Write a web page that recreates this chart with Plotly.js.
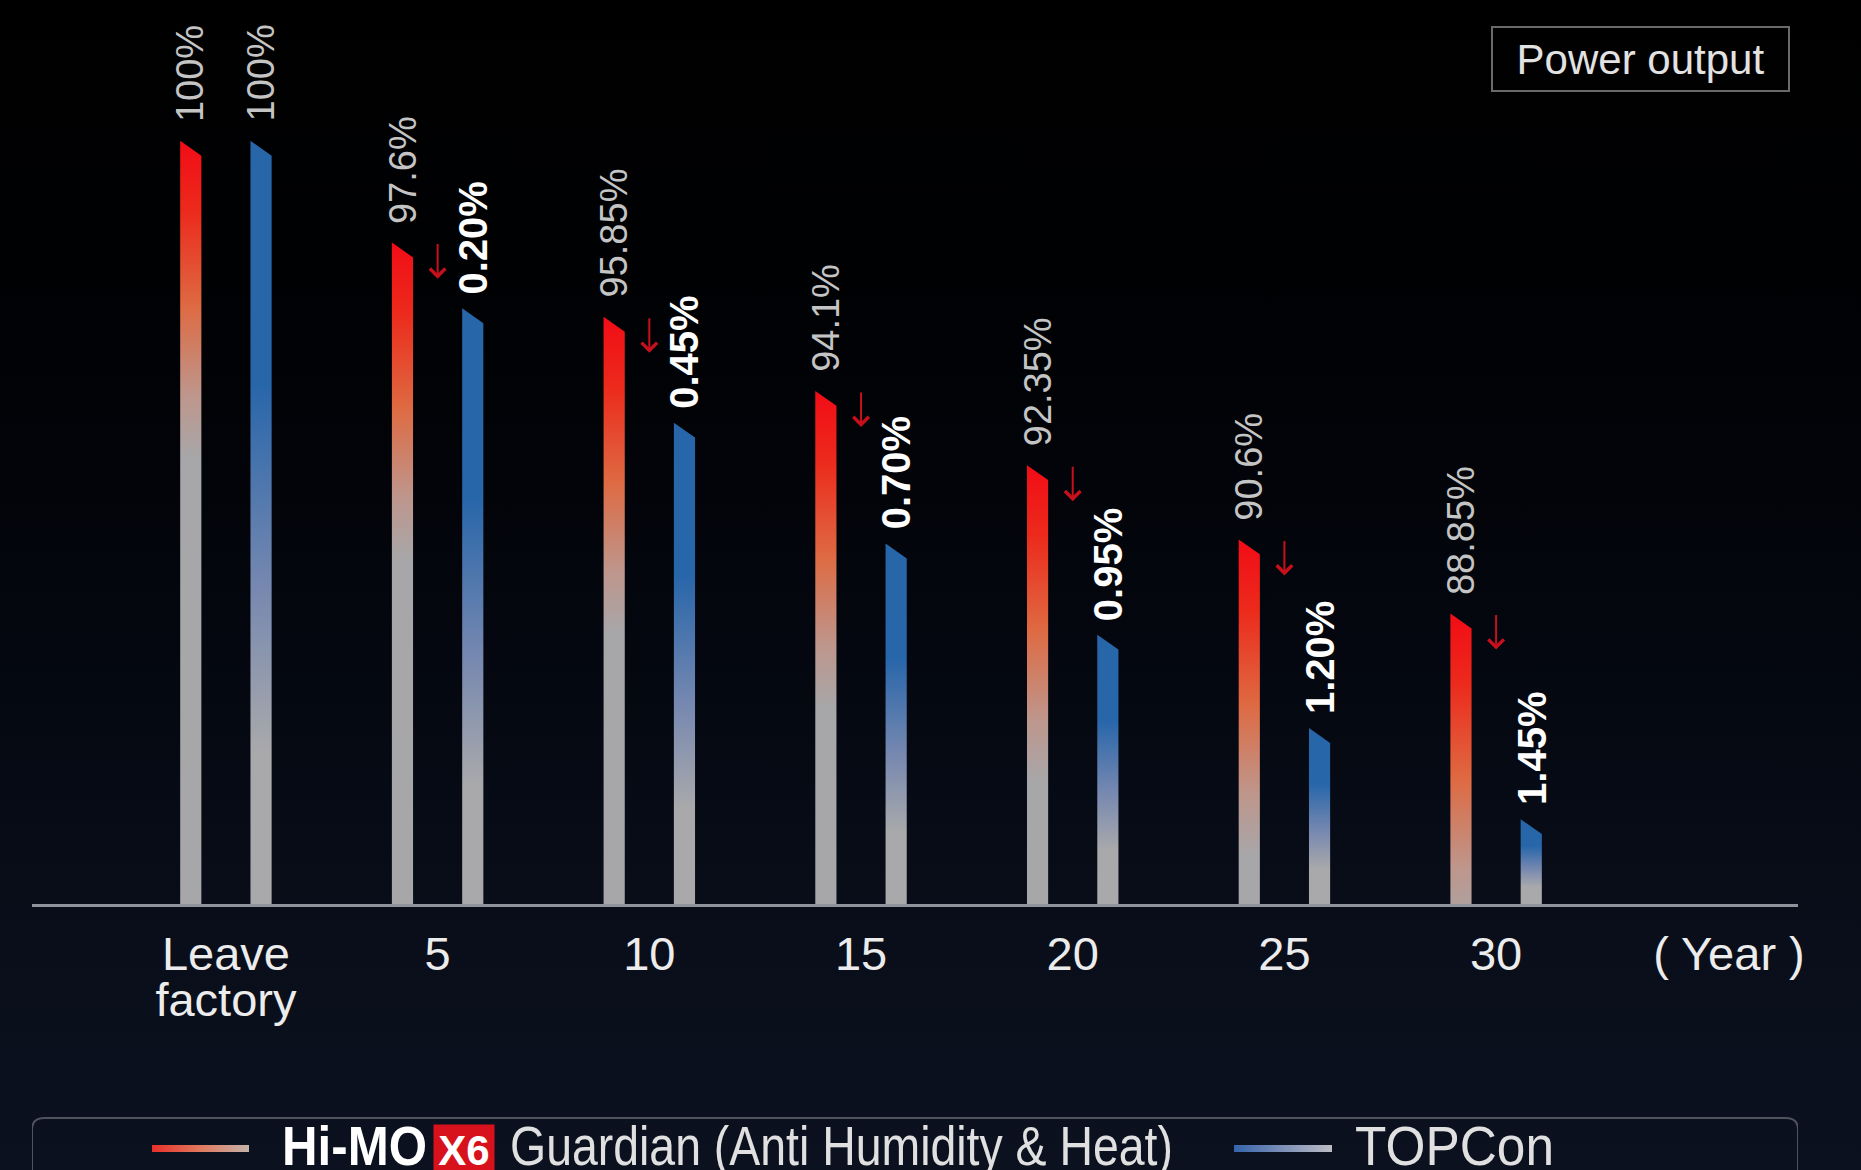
<!DOCTYPE html>
<html>
<head>
<meta charset="utf-8">
<script src="https://cdn.plot.ly/plotly-3.0.1.min.js"></script>
<style>
  html, body {
    margin: 0; padding: 0; width: 1861px; height: 1170px; overflow: hidden;
    background: linear-gradient(to bottom, #000000 0%, #010205 30%, #04070f 55%, #090e1a 80%, #0b111f 100%);
  }
  #chart { width: 1861px; height: 1170px; }
</style>
</head>
<body>
<div id="chart"></div>
<script>
// Power output retention over module lifetime
const periods = ['Leave<br>factory', '5', '10', '15', '20', '25', '30'];
const himoOutput = [100, 97.6, 95.85, 94.1, 92.35, 90.6, 88.85];
const topconOutput = [100, 96.05, 93.35, 90.5, 88.35, 86.15, 84.0];
const extraLoss = [null, 0.20, 0.45, 0.70, 0.95, 1.20, 1.45];
const yearUnit = '( Year )';
const himoName = 'Hi-MO';
const himoBadge = 'X6';
const himoSuffix = 'Guardian (Anti Humidity & Heat)';
const topconName = 'TOPCon';
const panelTitle = 'Power output';

// geometry / style settings
const yFloor = 82;
const yCeil = 102.85;
const pairOffset = 0.166;   // bar centre distance from category centre
const halfWidth = 0.05;     // half bar width (x units)
const slant = 0.35;         // drop of the bevelled bar top (y units)
const FONT = 'Liberation Sans, Arial, sans-serif';

const redScale = [[0, '#a7a7a9'], [0.2, '#be968c'], [0.48, '#de6a42'], [0.78, '#ec2a1c'], [1, '#f20c16']];
const blueScale = [[0, '#a9a9ab'], [0.45, '#7688b0'], [1, '#2866aa']];

function barTrace(xc, v, gradient) {
  return {
    type: 'scatter', mode: 'lines', fill: 'toself',
    x: [xc - halfWidth, xc - halfWidth, xc + halfWidth, xc + halfWidth, xc - halfWidth],
    y: [yFloor, v, v - slant, yFloor, yFloor],
    line: { width: 0, color: 'rgba(0,0,0,0)' },
    fillgradient: gradient,
    hoverinfo: 'skip', showlegend: false, xaxis: 'x', yaxis: 'y'
  };
}

const traces = [];
const annotations = [];
const condensed = [];   // [annotation index, drawn width in px]

himoOutput.forEach((v, i) => {
  const xc = i - pairOffset;
  traces.push(barTrace(xc, v, { type: 'vertical', start: v - 7.5, stop: v, colorscale: redScale }));
  annotations.push({
    x: xc, y: v, xref: 'x', yref: 'y', text: v + '%', textangle: -90,
    xanchor: 'center', yanchor: 'bottom', yshift: 17, showarrow: false,
    font: { family: FONT, size: 38, color: '#c4c4c4' }
  });
});

topconOutput.forEach((v, i) => {
  const xc = i + pairOffset;
  const len = v - yFloor;
  traces.push(barTrace(xc, v, { type: 'vertical', start: yFloor + len * 0.2, stop: v - len * 0.32, colorscale: blueScale }));
  const loss = extraLoss[i];
  annotations.push({
    x: xc, y: v, xref: 'x', yref: 'y',
    text: loss === null ? v + '%' : '<b>' + loss.toFixed(2) + '%</b>',
    textangle: -90, xanchor: 'center', yanchor: 'bottom', yshift: loss === null ? 17 : 12, showarrow: false,
    font: loss === null ? { family: FONT, size: 38, color: '#c4c4c4' } : { family: FONT, size: 40, color: '#ffffff' }
  });
  if (loss !== null) {
    annotations.push({
      x: i, y: himoOutput[i] - 0.85, ax: i, ay: himoOutput[i], xref: 'x', yref: 'y', axref: 'x', ayref: 'y',
      text: '', showarrow: true, arrowhead: 4, arrowsize: 1.5, arrowwidth: 2, arrowcolor: '#c8101c'
    });
  }
});

// legend swatches (drawn on the auxiliary pixel-like axes)
traces.push({
  type: 'scatter', mode: 'lines', fill: 'toself', xaxis: 'x2', yaxis: 'y2',
  x: [152, 152, 249, 249, 152], y: [1152, 1145, 1145, 1152, 1152],
  line: { width: 0, color: 'rgba(0,0,0,0)' }, hoverinfo: 'skip', showlegend: false,
  fillgradient: { type: 'horizontal', start: 152, stop: 249, colorscale: [[0, '#e8302a'], [0.5, '#e07a5e'], [1, '#c4b2aa']] }
});
traces.push({
  type: 'scatter', mode: 'lines', fill: 'toself', xaxis: 'x2', yaxis: 'y2',
  x: [1234, 1234, 1332, 1332, 1234], y: [1152, 1145, 1145, 1152, 1152],
  line: { width: 0, color: 'rgba(0,0,0,0)' }, hoverinfo: 'skip', showlegend: false,
  fillgradient: { type: 'horizontal', start: 1234, stop: 1332, colorscale: [[0, '#3564ac'], [0.5, '#7d90b8'], [1, '#bcbcc4']] }
});

function legendText(x, text, weight, color, width) {
  condensed.push([annotations.length, width]);
  annotations.push({
    xref: 'x2', yref: 'y2', x: x, y: 1145, xanchor: 'left', yanchor: 'middle', showarrow: false,
    text: weight === 'bold' ? '<b>' + text + '</b>' : text,
    font: { family: FONT, size: 56, color: color }
  });
}
legendText(280, himoName, 'bold', '#ffffff', 145);
annotations.push({
  xref: 'x2', yref: 'y2', x: 464, y: 1150, xanchor: 'center', yanchor: 'middle', showarrow: false,
  text: '<b>' + himoBadge + '</b>', bgcolor: '#d8121c', borderpad: 2, width: 56, height: 46,
  font: { family: FONT, size: 42, color: '#ffffff' }
});
legendText(508, himoSuffix, 'normal', '#e0e0e0', 663);
legendText(1353, topconName, 'normal', '#e0e0e0', 199);

annotations.push({
  xref: 'paper', yref: 'paper', x: 0.9108, y: 0.9665, xanchor: 'center', yanchor: 'middle', showarrow: false,
  text: panelTitle, width: 291, height: 58, borderpad: 2, borderwidth: 2, bordercolor: '#6a6a6a',
  font: { family: FONT, size: 42, color: '#e2e2e2' }
});

const tickVals = periods.map((_, i) => i).concat([7.1]);
const tickText = periods.concat([yearUnit]);

const layout = {
  width: 1861, height: 1170,
  margin: { l: 32, r: 63, t: 20, b: 0, pad: 0 },
  paper_bgcolor: 'rgba(0,0,0,0)', plot_bgcolor: 'rgba(0,0,0,0)',
  showlegend: false, hovermode: false,
  xaxis: {
    domain: [0, 1], range: [-0.916, 7.426], anchor: 'y',
    tickmode: 'array', tickvals: tickVals, ticktext: tickText,
    ticks: '', ticklabelstandoff: 7,
    tickfont: { family: FONT, size: 47, color: '#ececec' },
    showline: true, linecolor: '#8e939c', linewidth: 3,
    showgrid: false, zeroline: false, fixedrange: true
  },
  yaxis: {
    domain: [0.2313, 1], range: [yFloor, yCeil], anchor: 'x',
    visible: false, showgrid: false, zeroline: false, fixedrange: true
  },
  xaxis2: { domain: [0, 1], range: [32, 1798], anchor: 'y2', visible: false, fixedrange: true },
  yaxis2: { domain: [0, 0.2313], range: [1170, 904], anchor: 'x2', visible: false, fixedrange: true },
  shapes: [{
    type: 'path', xref: 'x2', yref: 'y2', layer: 'below',
    path: 'M 32,1176 L 32,1130 Q 32,1118 44,1118 L 1786,1118 Q 1798,1118 1798,1130 L 1798,1176',
    line: { color: '#4e535e', width: 2 }, fillcolor: 'rgba(0,0,0,0)'
  }],
  annotations: annotations
};

Plotly.newPlot('chart', traces, layout, { displayModeBar: false, staticPlot: true }).then(gd => {
  // condensed legend lettering: squeeze each text horizontally about its left edge
  condensed.forEach(([idx, width]) => {
    const t = gd.querySelector('.annotation[data-index="' + idx + '"] text.annotation-text');
    if (!t) return;
    const bb = t.getBBox();
    const s = width / bb.width;
    const prev = t.getAttribute('transform') || '';
    t.setAttribute('transform', prev + ' translate(' + (bb.x * (1 - s)) + ',0) scale(' + s + ',1)');
  });
  // tighter line spacing for two-line tick labels
  gd.querySelectorAll('.xtick text tspan.line').forEach(ts => {
    const dy = parseFloat(ts.getAttribute('dy'));
    if (dy > 0) ts.setAttribute('dy', (dy / 1.3 * 0.98) + 'em');
  });
});
</script>
</body>
</html>
